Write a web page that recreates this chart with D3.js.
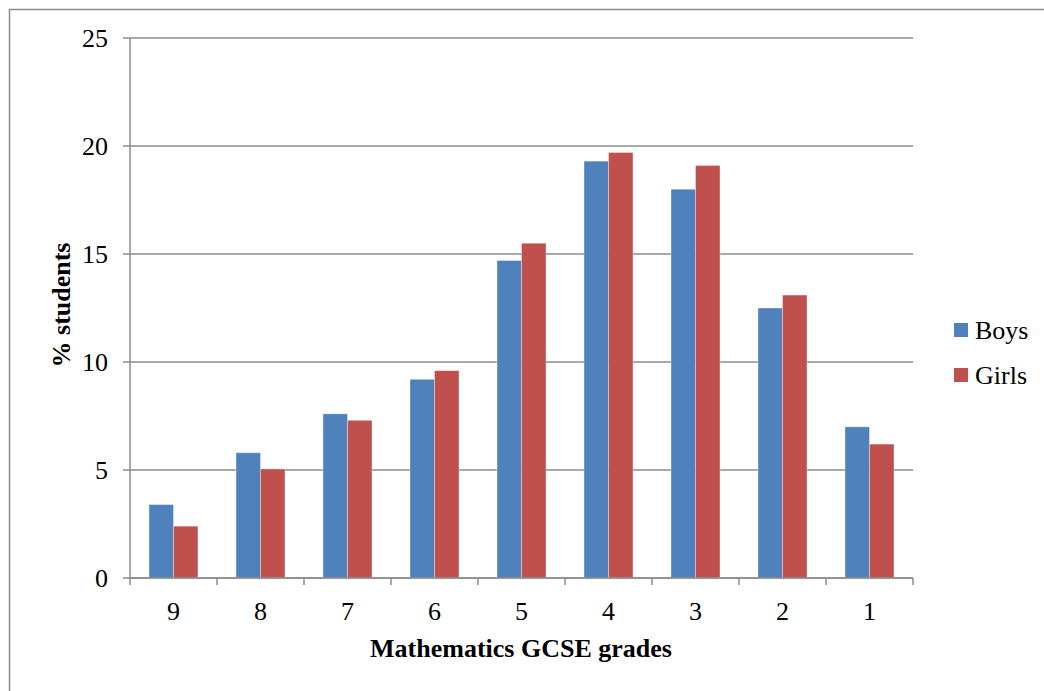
<!DOCTYPE html>
<html><head><meta charset="utf-8">
<script src="https://cdn.jsdelivr.net/npm/d3@7"></script>
<style>body{margin:0;background:#fff}svg{display:block}</style>
</head><body>
<svg id="c" width="1044" height="691"></svg>
<script>
const grades = ["9","8","7","6","5","4","3","2","1"];
const seriesNames = ["Boys","Girls"];
const boys  = [3.4, 5.8, 7.6, 9.2, 14.7, 19.3, 18.0, 12.5, 7.0];
const girls = [2.4, 5.05, 7.3, 9.6, 15.5, 19.7, 19.1, 13.1, 6.2];
const yTicks = [0,5,10,15,20,25];
const colors = ["#4F81BD","#C0504D"];
const FONT = "'Liberation Serif', 'Times New Roman', serif";
const FS = "26px";

const svg = d3.select("#c");
svg.append("rect").attr("x",9.5).attr("y",9.5).attr("width",1044).attr("height",700)
  .attr("fill","none").attr("stroke","#8c8c8c").attr("stroke-width",1.5);

const L=130, R=913, T=38, B=578;
const x = d3.scaleBand().domain(grades).range([L,R]).paddingInner(0).paddingOuter(0);
const y = d3.scaleLinear().domain([0,25]).range([B,T]);
const x1 = d3.scaleBand().domain(seriesNames).range([0,49]);
const off = (x.bandwidth()-49)/2;

svg.append("g").selectAll("line").data(yTicks).join("line")
  .attr("x1",L-7).attr("x2",R).attr("y1",d=>y(d)).attr("y2",d=>y(d))
  .attr("stroke","#8c8c8c").attr("stroke-width",1.5);

const data = grades.map((g,i)=>({g, vals:[boys[i],girls[i]]}));
const grp = svg.append("g").selectAll("g").data(data).join("g")
  .attr("transform",d=>`translate(${x(d.g)+off},0)`);
grp.selectAll("rect").data(d=>d.vals.map((v,j)=>({v,s:seriesNames[j],j}))).join("rect")
  .attr("x",d=>x1(d.s)).attr("width",x1.bandwidth())
  .attr("y",d=>y(d.v)).attr("height",d=>B-y(d.v))
  .attr("fill",d=>colors[d.j]).attr("stroke","rgba(255,255,255,0.45)").attr("stroke-width",0.8);

svg.append("line").attr("x1",L).attr("x2",L).attr("y1",T).attr("y2",B)
  .attr("stroke","#8c8c8c").attr("stroke-width",1.5);
const xt = grades.map(g=>x(g)).concat([R]);
svg.append("g").selectAll("line").data(xt).join("line")
  .attr("x1",d=>d).attr("x2",d=>d).attr("y1",B).attr("y2",B+7)
  .attr("stroke","#8c8c8c").attr("stroke-width",1.5);
svg.append("line").attr("x1",L).attr("x2",R).attr("y1",B).attr("y2",B)
  .attr("stroke","#8c8c8c").attr("stroke-width",1.5);

svg.append("g").selectAll("text").data(yTicks).join("text")
  .attr("x",108).attr("y",d=>y(d)+9).attr("text-anchor","end")
  .attr("font-family",FONT).attr("font-size",FS).text(d=>d);
svg.append("g").selectAll("text").data(grades).join("text")
  .attr("x",d=>x(d)+x.bandwidth()/2).attr("y",620).attr("text-anchor","middle")
  .attr("font-family",FONT).attr("font-size",FS).text(d=>d);

svg.append("text").attr("x",521).attr("y",657).attr("text-anchor","middle")
  .attr("font-family",FONT).attr("font-size",FS).attr("font-weight","bold").text("Mathematics GCSE grades");
svg.append("text").attr("transform","translate(70,305) rotate(-90)").attr("text-anchor","middle")
  .attr("font-family",FONT).attr("font-size",FS).attr("font-weight","bold").text("% students");

const lg = svg.append("g").selectAll("g").data(seriesNames).join("g")
  .attr("transform",(d,i)=>`translate(954,${323+i*45})`);
lg.append("rect").attr("width",14).attr("height",14).attr("fill",(d,i)=>colors[i]);
lg.append("text").attr("x",21).attr("y",16).attr("font-family",FONT).attr("font-size",FS).text(d=>d);
</script>
</body></html>
